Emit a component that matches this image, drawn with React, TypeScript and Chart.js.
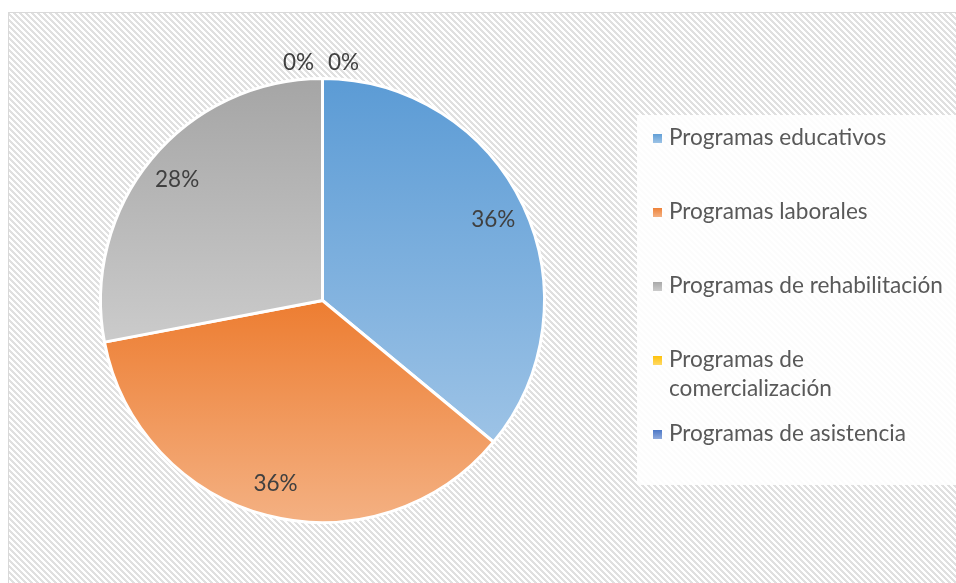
import React, { useEffect, useRef } from "react";
import { Chart, registerables } from "chart.js";

Chart.register(...registerables);

const categories = [
  "Programas educativos",
  "Programas laborales",
  "Programas de rehabilitación",
  "Programas de comercialización",
  "Programas de asistencia",
];
const legendLines = [
  ["Programas educativos"],
  ["Programas laborales"],
  ["Programas de rehabilitación"],
  ["Programas de", "comercialización"],
  ["Programas de asistencia"],
];
const values = [36, 36, 28, 0, 0];
const percentLabels = ["36%", "36%", "28%", "0%", "0%"];
const darkColors = ["#5b9bd5", "#ed7d31", "#a5a5a5", "#ffc000", "#4472c4"];
const lightColors = ["#9dc3e6", "#f4b183", "#cbcbcb", "#ffd966", "#8faadc"];

const FONT = "Lato, 'Open Sans', sans-serif";
const W = 956;
const H = 583;

function sliceGradient(ctx: any) {
  const chart = ctx.chart;
  const idx = ctx.dataIndex;
  const area = chart.chartArea;
  if (!area) return darkColors[idx];
  const cx = (area.left + area.right) / 2;
  const cy = (area.top + area.bottom) / 2;
  const r = Math.min(area.right - area.left, area.bottom - area.top) / 2;
  const total = values.reduce((a, b) => a + b, 0);
  let start = 0;
  for (let i = 0; i < idx; i++) start += values[i];
  const a0 = (start / total) * Math.PI * 2 - Math.PI / 2;
  const a1 = ((start + values[idx]) / total) * Math.PI * 2 - Math.PI / 2;
  const ys = [cy, cy + r * Math.sin(a0), cy + r * Math.sin(a1)];
  const norm = (a: number) => ((a % (2 * Math.PI)) + 2 * Math.PI) % (2 * Math.PI);
  const inArc = (t: number) => {
    const s = norm(a0);
    const span = a1 - a0;
    const d = norm(t - s);
    return d <= span;
  };
  if (inArc(-Math.PI / 2)) ys.push(cy - r);
  if (inArc(Math.PI / 2)) ys.push(cy + r);
  let y0 = Math.min(...ys);
  let y1 = Math.max(...ys);
  if (y1 - y0 < 1) y1 = y0 + 1;
  const g = chart.ctx.createLinearGradient(0, y0, 0, y1);
  g.addColorStop(0, darkColors[idx]);
  g.addColorStop(1, lightColors[idx]);
  return g;
}

const backgroundPlugin = {
  id: "bgHatch",
  beforeDraw(chart: any) {
    const ctx = chart.ctx;
    const pc = document.createElement("canvas");
    pc.width = 6;
    pc.height = 6;
    const p = pc.getContext("2d")!;
    p.fillStyle = "#ffffff";
    p.fillRect(0, 0, 6, 6);
    p.fillStyle = "#e0e0e0";
    for (let y = 0; y < 6; y++) {
      for (let x = 0; x < 6; x++) {
        const d = (((x - y) % 6) + 6) % 6;
        if (d < 3) p.fillRect(x, y, 1, 1);
      }
    }
    const pat = ctx.createPattern(pc, "repeat");
    ctx.save();
    ctx.fillStyle = "#ffffff";
    ctx.fillRect(0, 0, W, H);
    ctx.fillStyle = pat;
    ctx.fillRect(8, 12, W - 8, H - 12);
    ctx.strokeStyle = "#d9d9d9";
    ctx.lineWidth = 1;
    ctx.beginPath();
    ctx.moveTo(8.5, H);
    ctx.lineTo(8.5, 12.5);
    ctx.lineTo(W, 12.5);
    ctx.stroke();
    // legend box
    ctx.fillStyle = "rgba(255,255,255,0.88)";
    ctx.fillRect(637, 115, W - 637, 485 - 115);
    ctx.restore();
  },
};

const overlayPlugin = {
  id: "overlay",
  afterDraw(chart: any) {
    const ctx = chart.ctx;
    const meta = chart.getDatasetMeta(0);
    ctx.save();
    ctx.font = `22.5px ${FONT}`;
    ctx.fillStyle = "#404040";
    ctx.textAlign = "center";
    ctx.textBaseline = "middle";
    meta.data.forEach((arc: any, i: number) => {
      const { x, y, startAngle, endAngle, outerRadius } = arc.getProps(
        ["x", "y", "startAngle", "endAngle", "outerRadius"],
        true
      );
      const mid = (startAngle + endAngle) / 2;
      if (values[i] > 0) {
        const rr = outerRadius * 0.85;
        ctx.fillText(percentLabels[i], x + Math.cos(mid) * rr, y + Math.sin(mid) * rr);
      } else {
        const off = i === 3 ? -24 : 21;
        ctx.fillText(percentLabels[i], x + off, y - outerRadius - 16);
      }
    });
    // legend
    const itemY = [138, 212, 286, 360, 434];
    ctx.textAlign = "left";
    ctx.font = `22.6px ${FONT}`;
    legendLines.forEach((lines, i) => {
      const yy = itemY[i];
      const g = ctx.createLinearGradient(0, yy - 5, 0, yy + 5);
      g.addColorStop(0, darkColors[i]);
      g.addColorStop(1, lightColors[i]);
      ctx.fillStyle = g;
      ctx.fillRect(653, yy - 4, 9, 9);
      ctx.fillStyle = "#595959";
      lines.forEach((t, k) => {
        ctx.fillText(t, 669, yy + k * 29);
      });
    });
    ctx.restore();
  },
};

export default function App() {
  const ref = useRef<HTMLCanvasElement>(null);
  useEffect(() => {
    const chart = new Chart(ref.current!, {
      type: "pie",
      data: {
        labels: categories,
        datasets: [
          {
            data: values,
            backgroundColor: sliceGradient as any,
            borderColor: "#ffffff",
            borderWidth: 3,
          },
        ],
      },
      options: {
        animation: false,
        responsive: false,
        maintainAspectRatio: false,
        layout: { padding: { left: 99, right: 410, top: 77, bottom: 59 } },
        plugins: {
          legend: { display: false },
          tooltip: { enabled: false },
        },
      },
      plugins: [backgroundPlugin, overlayPlugin],
    });
    return () => chart.destroy();
  }, []);
  return (
    <div style={{ position: "absolute", left: 0, top: 0, width: W, height: H }}>
      <canvas ref={ref} width={W} height={H} style={{ width: W, height: H, display: "block" }} />
    </div>
  );
}
